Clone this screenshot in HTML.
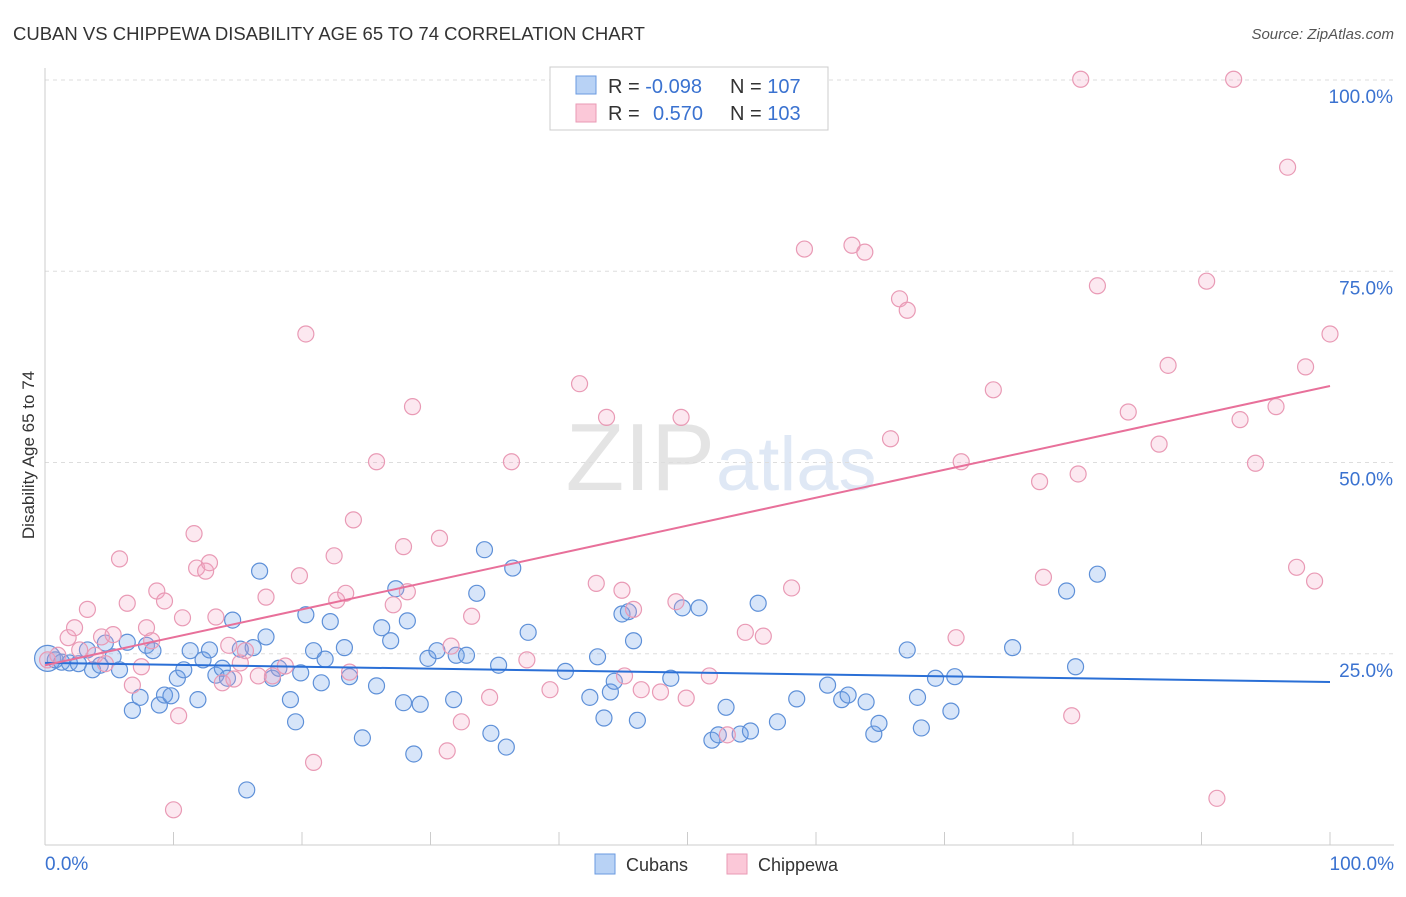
<!DOCTYPE html>
<html><head><meta charset="utf-8"><style>
body{margin:0;background:#fff;font-family:"Liberation Sans",sans-serif}
svg text{font-family:"Liberation Sans",sans-serif}
</style></head><body>
<svg id="c" width="1406" height="892">
<text x="13" y="40" font-size="18.5" fill="#333">CUBAN VS CHIPPEWA DISABILITY AGE 65 TO 74 CORRELATION CHART</text>
<text x="1394" y="39" font-size="15" fill="#555" text-anchor="end" font-style="italic">Source: ZipAtlas.com</text>
<text x="715" y="490" font-size="96" fill="#e4e4e4" text-anchor="end" font-family="Liberation Serif">ZIP</text>
<text x="716" y="490" font-size="76" fill="#dfe8f5">atlas</text>
<g id="grid"></g><g id="pts"></g><g id="lines"></g>
<text transform="translate(34,455) rotate(-90)" font-size="17" fill="#333" text-anchor="middle">Disability Age 65 to 74</text>
<text x="45" y="870" font-size="19" fill="#3a72d0">0.0%</text>
<text x="1394" y="870" font-size="19" fill="#3a72d0" text-anchor="end">100.0%</text>
<g>
<rect x="550" y="67" width="278" height="63" fill="#fff" stroke="#ccc"/>
<rect x="576" y="76" width="20" height="18" fill="#b8d2f5" stroke="#6a9ae0"/>
<rect x="576" y="104" width="20" height="18" fill="#fbc8d8" stroke="#e99ab5"/>
<text x="608" y="93" font-size="20" fill="#333">R = <tspan fill="#3a72d0">-0.098</tspan><tspan x="730">N = </tspan><tspan fill="#3a72d0">107</tspan></text>
<text x="608" y="120" font-size="20" fill="#333">R = <tspan fill="#3a72d0" x="653">0.570</tspan><tspan x="730">N = </tspan><tspan fill="#3a72d0">103</tspan></text>
</g>
<g>
<rect x="595" y="854" width="20" height="20" fill="#b8d2f5" stroke="#6a9ae0"/>
<text x="626" y="871" font-size="18" fill="#333">Cubans</text>
<rect x="727" y="854" width="20" height="20" fill="#fbc8d8" stroke="#e99ab5"/>
<text x="758" y="871" font-size="18" fill="#333">Chippewa</text>
</g>
</svg>
<script>
const yTicks=[25,50,75,100];
const yTickLabels=["25.0%","50.0%","75.0%","100.0%"];
const xTicks=[0,10,20,30,40,50,60,70,80,90,100];
const cubanX=[0.2,0.8,1.3,1.9,2.6,3.3,3.7,4.3,4.7,5.3,5.8,6.4,6.8,7.4,7.9,8.4,8.9,9.3,9.8,10.3,10.8,11.3,11.9,12.3,12.8,13.3,13.8,14.2,14.6,15.2,15.7,16.2,16.7,17.2,17.7,18.2,19.1,19.5,19.9,20.3,20.9,21.5,21.8,22.2,23.3,23.7,24.7,25.8,26.2,26.9,27.3,27.9,28.2,28.7,29.2,29.8,30.5,31.8,32.0,32.8,33.6,34.2,34.7,35.3,35.9,36.4,37.6,40.5,42.4,43.0,43.5,44.0,44.3,44.9,45.4,45.8,46.1,48.7,49.6,50.9,51.9,52.4,53.0,54.1,54.9,55.5,57.0,58.5,60.9,62.0,62.5,63.9,64.5,64.9,67.1,67.9,68.2,69.3,70.5,70.8,75.3,79.5,80.2,81.9];
const cubanY=[24.4,24.2,23.9,23.8,23.7,25.5,22.9,23.5,26.4,24.6,22.9,26.5,17.6,19.3,26.1,25.4,18.3,19.6,19.5,21.8,22.9,25.4,19.0,24.2,25.5,22.2,23.1,21.8,29.4,25.6,7.2,25.8,35.8,27.2,21.8,23.1,19.0,16.1,22.5,30.1,25.4,21.2,24.3,29.2,25.8,22.0,14.0,20.8,28.4,26.7,33.5,18.6,29.3,11.9,18.4,24.4,25.4,19.0,24.8,24.8,32.9,38.6,14.6,23.5,12.8,36.2,27.8,22.7,19.3,24.6,16.6,20.0,21.4,30.2,30.5,26.7,16.3,21.8,31.0,31.0,13.7,14.4,18.0,14.5,14.9,31.6,16.1,19.1,20.9,19.0,19.6,18.7,14.5,15.9,25.5,19.3,15.3,21.8,17.5,22.0,25.8,33.2,23.3,35.4];
const chipX=[0.2,1.0,1.8,2.3,2.7,3.3,3.9,4.4,4.7,5.3,5.8,6.4,6.8,7.5,7.9,8.3,8.7,9.3,10.0,10.4,10.7,11.6,11.8,12.5,12.8,13.3,13.8,14.3,14.7,15.2,15.6,16.6,17.2,17.7,18.7,19.8,20.3,20.9,22.5,22.7,23.4,23.7,24.0,25.8,27.1,27.9,28.2,28.6,30.7,31.3,31.6,32.4,33.2,34.6,36.3,37.5,39.3,41.6,42.9,43.7,44.9,45.1,45.8,46.4,47.9,49.1,49.5,49.9,51.7,53.1,54.5,55.9,58.1,59.1,62.8,63.8,65.8,66.5,67.1,70.9,71.3,73.8,77.4,77.7,79.9,80.4,80.6,81.9,84.3,86.7,87.4,90.4,91.2,92.5,93.0,94.2,95.8,96.7,97.4,98.1,98.8,100];
const chipY=[24.2,24.8,27.1,28.4,25.5,30.8,24.8,27.2,23.7,27.5,37.4,31.6,20.9,23.3,28.4,26.7,33.2,31.9,4.6,16.9,29.7,40.7,36.2,35.8,36.9,29.8,21.2,26.1,21.7,23.8,25.4,22.1,32.4,22.1,23.4,35.2,66.8,10.8,37.8,32.0,32.9,22.6,42.5,50.1,31.4,39.0,33.1,57.3,40.1,12.3,26.0,16.1,29.9,19.3,50.1,24.2,20.3,60.3,34.2,55.9,33.3,22.1,30.8,20.3,20.0,31.8,55.9,19.2,22.1,14.4,27.8,27.3,33.6,77.9,78.4,77.5,53.1,71.4,69.9,27.1,50.1,59.5,47.5,35.0,16.9,48.5,100.1,73.1,56.6,52.4,62.7,73.7,6.1,100.1,55.6,49.9,57.3,88.6,36.3,62.5,34.5,66.8];
const cubanTrend=[23.8,21.3];
const chipTrend=[23.5,60.0];
const NS="http://www.w3.org/2000/svg";
const X=v=>45+v*12.85, Y=v=>845-v*7.65;
function mk(t,a,p){const e=document.createElementNS(NS,t);for(const k in a)e.setAttribute(k,a[k]);p.appendChild(e);return e;}
const g=document.getElementById('grid');
yTicks.forEach((t,i)=>{
 const l=mk('line',{x1:45,x2:1394,y1:Y(t),y2:Y(t),stroke:'#ddd','stroke-dasharray':'4,4'},g);
 
 
 const tx=mk('text',{x:1393,y:Y(t)+23,'font-size':19,fill:'#3a72d0','text-anchor':'end'},g);
 tx.textContent=yTickLabels[i];
 
 
});
const ax=mk('line',{x1:45,x2:1394,y1:845,y2:845,stroke:'#ccc'},g);


const ay=mk('line',{x1:45,x2:45,y1:68,y2:845,stroke:'#ccc'},g);


xTicks.forEach(t=>{const l=mk('line',{x1:X(t),x2:X(t),y1:832,y2:845,stroke:'#ccc'},g);
 
 });
const p=document.getElementById('pts');
cubanX.forEach((x,i)=>{const c=mk('circle',{cx:X(x),cy:Y(cubanY[i]),r:i==0?13:8,fill:'rgba(110,160,235,0.28)',stroke:'#5e90d8','stroke-width':1.2},p);
 
 });
chipX.forEach((x,i)=>{const c=mk('circle',{cx:X(x),cy:Y(chipY[i]),r:8,fill:'rgba(245,165,195,0.25)',stroke:'#e99ab5','stroke-width':1.2},p);
 
 });
const L=document.getElementById('lines');
const l1=mk('line',{x1:X(0),x2:X(100),y1:Y(cubanTrend[0]),y2:Y(cubanTrend[1]),stroke:'#2a6fd6','stroke-width':2},L);


const l2=mk('line',{x1:X(0),x2:X(100),y1:Y(chipTrend[0]),y2:Y(chipTrend[1]),stroke:'#e8709a','stroke-width':2},L);


</script>
</body></html>
